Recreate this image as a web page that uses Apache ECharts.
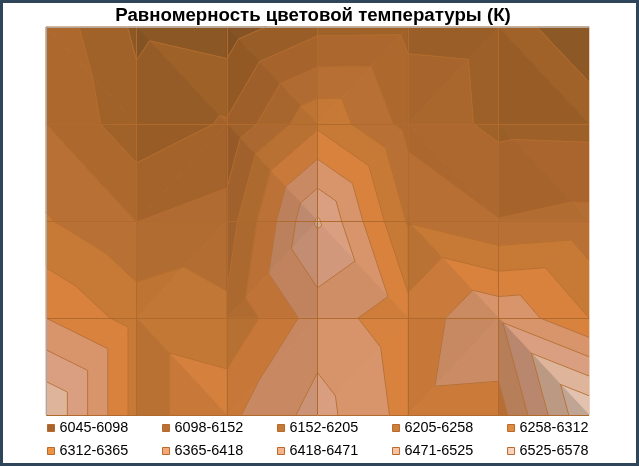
<!DOCTYPE html>
<html><head><meta charset="utf-8">
<style>html,body{margin:0;padding:0;background:#fff}#c{width:639px;height:466px}</style>
<script src="https://cdn.jsdelivr.net/npm/echarts@6/dist/echarts.min.js"></script>
</head><body><div id="c"></div>
<script>
var titleText = 'Равномерность цветовой температуры (К)';
var levels = [6045,6098,6152,6205,6258,6312,6365,6418,6471,6525,6578];
var bandLabels = ['6045-6098','6098-6152','6152-6205','6205-6258','6258-6312','6312-6365','6365-6418','6418-6471','6471-6525','6525-6578'];
var row0 = [6189,6088,6069,6137,6139,6135,6048];
var row1 = [6205,6117,6158,6301,6186,6139,6136];
var row2 = [6263,6204,6229,6478,6253,6207,6221];
var row3 = [6365,6290,6269,6391,6333,6410,6312];
var row4 = [6527,6290,6351,6439,6346,6341,6578];
var rows = [row0,row1,row2,row3,row4];
var bandFill = ['#8c5826','#a06229','#ad682e','#b87034','#c67a36','#d8823e','#d8946a','#da9f80','#deb49b','#e2c2ae'];
var swatch = ['#a8642f','#b87035','#c47a38','#cd803b','#e08b42','#ee9244','#f3a876','#f5b48c','#f8c3a5','#fbd3bd'];

var step = 53.3;
var triangles = [];
function node(c,r){return {x:c,y:r,v:rows[r][c]};}
function addTri(a,b,d,gx,gy){triangles.push({pts:[a,b,d],g:(gx-0.5*gy)/step});}
for (var r=0;r<4;r++) for (var c=0;c<6;c++){
  var TL=node(c,r),TR=node(c+1,r),BL=node(c,r+1),BR=node(c+1,r+1);
  if (TL.v+BR.v>=TR.v+BL.v){
    addTri(TL,TR,BR,TR.v-TL.v,BR.v-TR.v);
    addTri(TL,BR,BL,BR.v-BL.v,BL.v-TL.v);
  } else {
    addTri(TL,TR,BL,TR.v-TL.v,BL.v-TL.v);
    addTri(TR,BR,BL,BR.v-BL.v,BR.v-TR.v);
  }
}
function cross(a,b,L){var t=(L-a.v)/(b.v-a.v);return {x:a.x+t*(b.x-a.x),y:a.y+t*(b.y-a.y),v:L};}
function clip(pts,L,keepAbove){
  var out=[];
  for(var i=0;i<pts.length;i++){
    var a=pts[i],b=pts[(i+1)%pts.length];
    var ia=keepAbove?a.v>=L:a.v<=L, ib=keepAbove?b.v>=L:b.v<=L;
    if(ia)out.push(a);
    if(ia!==ib)out.push(cross(a,b,L));
  }
  return out;
}
function bandPoly(t,b){return clip(clip(t.pts,levels[b],true),levels[b+1],false);}
function shade(hex,f){
  var n=parseInt(hex.slice(1),16);
  return 'rgb('+[(n>>16)&255,(n>>8)&255,n&255].map(function(x){return Math.round(x*f);}).join(',')+')';
}
var segments=[];
triangles.forEach(function(t){
  levels.slice(1,10).forEach(function(L){
    var p=[];
    for(var i=0;i<3;i++){var a=t.pts[i],b=t.pts[(i+1)%3];
      if((a.v<L)!==(b.v<L))p.push(cross(a,b,L));}
    if(p.length===2)segments.push(p);
  });
});
var series=bandLabels.map(function(name,b){
  var data=[];
  triangles.forEach(function(t,i){if(bandPoly(t,b).length>=3)data.push([i]);});
  return {type:'custom',name:name,coordinateSystem:'cartesian2d',silent:true,animation:false,z:2,
    itemStyle:{color:swatch[b]},data:data,encode:{x:[],y:[]},
    renderItem:function(p,api){
      var t=triangles[api.value(0)],poly=bandPoly(t,b);
      var f=t.g>0?0.95-0.02*t.g:Math.min(1,0.95-0.03*t.g);
      var col=shade(bandFill[b],f);
      return {type:'polygon',shape:{points:poly.map(function(q){return api.coord([q.x,q.y]);})},
        style:{fill:col,stroke:col,lineWidth:1}};
    }};
});
series.push({type:'custom',name:'contours',coordinateSystem:'cartesian2d',silent:true,animation:false,z:3,
  data:segments.map(function(s,i){return [i];}),encode:{x:[],y:[]},
  renderItem:function(p,api){
    var s=segments[api.value(0)],a=api.coord([s[0].x,s[0].y]),b=api.coord([s[1].x,s[1].y]);
    return {type:'line',shape:{x1:a[0],y1:a[1],x2:b[0],y2:b[1]},style:{stroke:'#b56d2e',lineWidth:1,opacity:0.9}};
  }});
function legendFor(names,top){
  return {show:true,left:47,top:top,padding:0,itemWidth:7,itemHeight:7,itemGap:33.7,icon:'rect',selectedMode:false,
    textStyle:{fontFamily:'Liberation Sans',fontSize:14.4,color:'#000'},
    data:names.map(function(n){return {name:n,icon:'rect',itemStyle:{color:swatch[bandLabels.indexOf(n)],borderColor:'#b8692c',borderWidth:1}};})};
}
var chart=echarts.init(document.getElementById('c'),null,{renderer:'canvas'});
chart.setOption({
  backgroundColor:'#fff',animation:false,
  title:{text:titleText,left:313,textAlign:'center',top:6,padding:0,textStyle:{fontFamily:'Liberation Sans',fontSize:18.67,fontWeight:'bold',color:'#000'}},
  legend:[legendFor(bandLabels.slice(0,5),421),legendFor(bandLabels.slice(5),444)],
  grid:{left:46,top:27,width:543,height:388},
  xAxis:{type:'value',min:0,max:6,interval:1,position:'top',z:5,
    axisLine:{show:true,onZero:false,lineStyle:{color:'#b0a89f',width:1}},axisTick:{show:false},axisLabel:{show:false},
    splitLine:{show:true,lineStyle:{color:'#b16a2d',width:1}}},
  yAxis:[{type:'value',min:0,max:4,interval:1,inverse:true,z:5,
    axisLine:{show:true,onZero:false,lineStyle:{color:'#a8a8a8',width:1}},axisTick:{show:false},axisLabel:{show:false},
    splitLine:{show:true,lineStyle:{color:'#b16a2d',width:1}}},
    {type:'value',min:0,max:4,interval:1,inverse:true,position:'right',z:5,
    axisLine:{show:true,onZero:false,lineStyle:{color:'#ecd0ba',width:1}},axisTick:{show:false},axisLabel:{show:false},splitLine:{show:false}}],
  graphic:[{type:'rect',silent:true,z:-1,shape:{x:1.5,y:1.5,width:636,height:463},style:{fill:'none',stroke:'#2f465a',lineWidth:3}}],
  series:series
});
</script></body></html>
